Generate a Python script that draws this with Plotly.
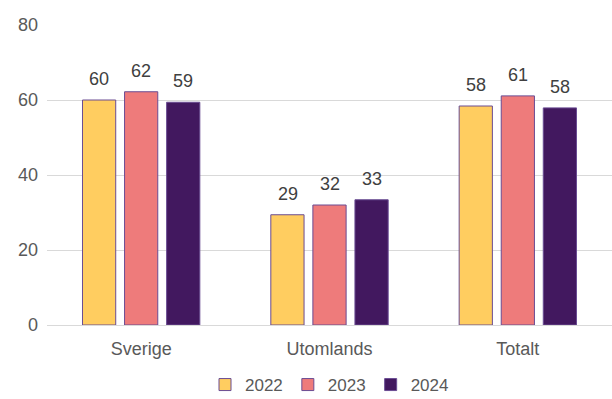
import plotly.graph_objects as go

categories = ["Sverige", "Utomlands", "Totalt"]
years = ["2022", "2023", "2024"]
values_2022 = [60.0, 29.4, 58.4]
values_2023 = [62.2, 32.0, 61.1]
values_2024 = [59.4, 33.4, 57.9]
colors = ["#FFCD60", "#EE7B7B", "#42185F"]
outline = "#6A4C93"
FONT = "Liberation Sans, Arial, sans-serif"

series = [values_2022, values_2023, values_2024]
fig = go.Figure()
for year, vals, col in zip(years, series, colors):
    fig.add_trace(go.Bar(
        name=year, x=categories, y=vals,
        marker=dict(color=col, line=dict(color=outline, width=1)),
    ))

# value labels above each bar, offset sideways to the bar's slot in the group
pitch = 42
for i, vals in enumerate(series):
    for cat, v in zip(categories, vals):
        fig.add_annotation(
            x=cat, y=v, text=f"{v:.0f}", showarrow=False,
            xshift=(i - 1) * pitch, yshift=9, yanchor="bottom",
            font=dict(family=FONT, size=18, color="#404040"),
        )

fig.update_layout(
    width=612, height=399,
    margin=dict(l=47, r=0, t=25, b=74, autoexpand=False),
    paper_bgcolor="white", plot_bgcolor="white",
    barmode="group", bargap=0.33, bargroupgap=0.21,
    font=dict(family=FONT, size=18, color="#595959"),
    showlegend=True,
    legend=dict(orientation="h", x=0.5, xanchor="center",
                y=-0.14, yanchor="top", tracegroupgap=0,
                font=dict(family=FONT, size=17, color="#595959"),
                traceorder="normal", itemwidth=30),
    xaxis=dict(showline=True, linecolor="#D9D9D9", linewidth=1, ticks="",
               ticklabelstandoff=7,
               tickfont=dict(family=FONT, size=18, color="#595959")),
    yaxis=dict(range=[0, 80], dtick=20, showgrid=True, gridcolor="#D9D9D9",
               gridwidth=1, zeroline=False, showline=False, ticks="",
               ticklabelstandoff=8,
               tickfont=dict(family=FONT, size=18, color="#595959")),
)

fig.write_html("out.html")
